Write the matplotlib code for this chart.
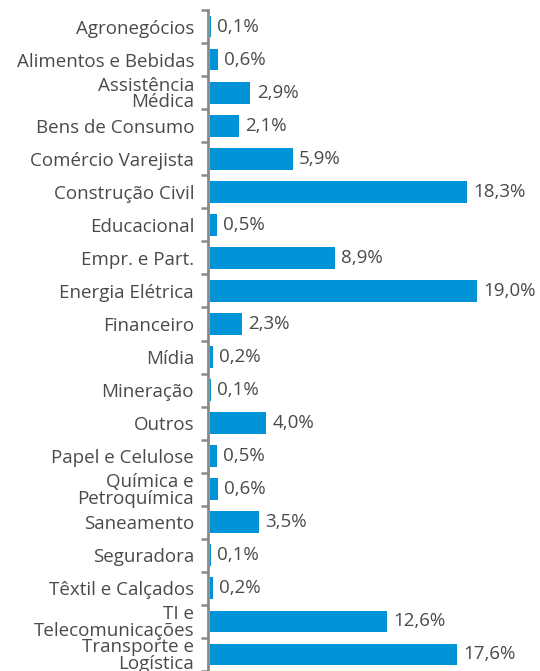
import numpy as np
from matplotlib import pyplot as plt
from matplotlib.ticker import FixedLocator

categories = ['Agronegócios', 'Alimentos e Bebidas', 'Assistência\nMédica',
              'Bens de Consumo', 'Comércio Varejista', 'Construção Civil',
              'Educacional', 'Empr. e Part.', 'Energia Elétrica', 'Financeiro',
              'Mídia', 'Mineração', 'Outros', 'Papel e Celulose',
              'Química e\nPetroquímica', 'Saneamento', 'Seguradora',
              'Têxtil e Calçados', 'TI e\nTelecomunicações',
              'Transporte e\nLogística']
values = [0.1, 0.6, 2.9, 2.1, 5.9, 18.3, 0.5, 8.9, 19.0, 2.3,
          0.2, 0.1, 4.0, 0.5, 0.6, 3.5, 0.1, 0.2, 12.6, 17.6]

bar_color = '#0093d8'
text_color = '#4a4a4a'
axis_color = '#8a8a8a'

plt.rcParams['font.family'] = ['Open Sans', 'DejaVu Sans']

fig = plt.figure(figsize=(5.4, 6.71), dpi=100)
ax = fig.add_axes([208 / 540, 0.0, 1 - 208 / 540, 1 - 10 / 671])

y = np.arange(len(categories))
ax.barh(y, values, height=0.66, color=bar_color, left=0.12)

for yi, v in zip(y, values):
    ax.text(v + 0.12 + 0.45, yi, ('%.1f%%' % v).replace('.', ','),
            va='center', ha='left', fontsize=13.5, color=text_color)

ax.set_ylim(len(categories) - 0.5, -0.5)
ax.set_xlim(0, 23.6)

ax.set_yticks(y)
ax.set_yticklabels(categories, fontsize=13.5, color=text_color,
                   linespacing=0.88)
ax.yaxis.set_minor_locator(FixedLocator(np.arange(-0.5, len(categories), 1)))
ax.tick_params(axis='y', which='major', length=0, pad=10)
ax.tick_params(axis='y', which='minor', length=5, width=1.8,
               color=axis_color, direction='out')

ax.set_xticks([])
for s in ['top', 'right', 'bottom']:
    ax.spines[s].set_visible(False)
ax.spines['left'].set_color(axis_color)
ax.spines['left'].set_linewidth(2)

fig.savefig('out.png', dpi=100)
